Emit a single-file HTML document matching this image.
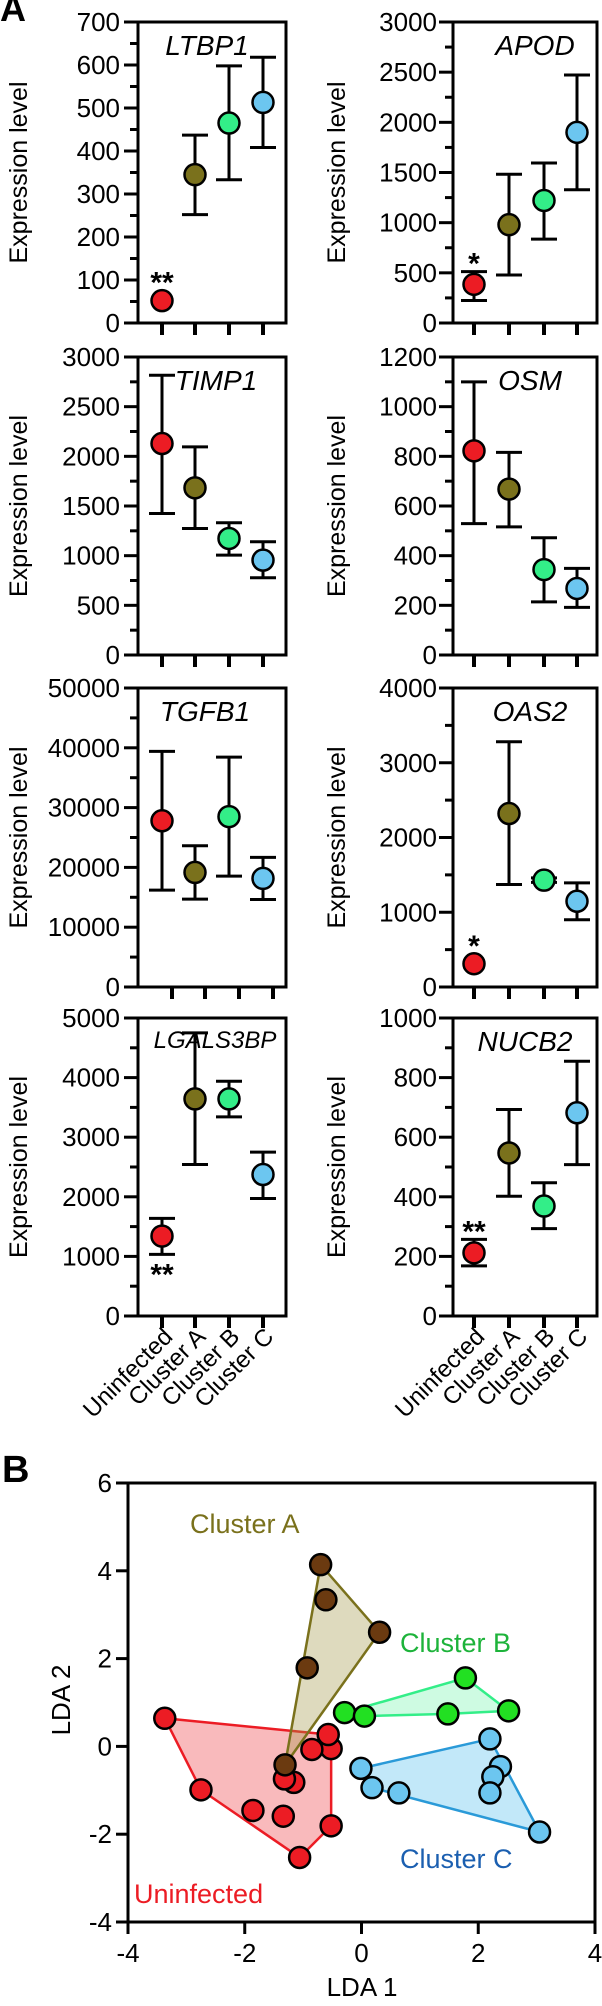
<!DOCTYPE html>
<html><head><meta charset="utf-8">
<style>
html,body{margin:0;padding:0;background:#fff;}
svg{display:block;font-family:"Liberation Sans",Arial,sans-serif;}
</style></head>
<body>
<svg id="fig" width="602" height="2006" viewBox="0 0 602 2006" xmlns="http://www.w3.org/2000/svg">
<text x="0" y="21" font-size="36" font-weight="bold">A</text>
<text x="2" y="1482" font-size="38" font-weight="bold">B</text>
<g id="panelA"></g>
<g id="panelB"></g>
</svg>
<script>
// ---------- Panel A data ----------
const groupNames = ["Uninfected","Cluster A","Cluster B","Cluster C"];
const groupColors = ["#ec1c24","#7a711c","#33ee88","#6cc6f0"];
const genes = ["LTBP1","APOD","TIMP1","OSM","TGFB1","OAS2","LGALS3BP","NUCB2"];
const yMaxes = [700,3000,3000,1200,50000,4000,5000,1000];
const yMajor = [100,500,500,200,10000,1000,1000,200];
const meansLTBP1 = [52,345,465,513];
const lowLTBP1 = [52,252,333,408];
const highLTBP1 = [52,437,598,618];
const meansAPOD = [385,980,1221,1900];
const lowAPOD = [224,478,836,1328];
const highAPOD = [512,1482,1595,2472];
const meansTIMP1 = [2129,1683,1173,955];
const lowTIMP1 = [1425,1274,1006,778];
const highTIMP1 = [2816,2095,1331,1140];
const meansOSM = [822,668,344,268];
const lowOSM = [529,516,214,192];
const highOSM = [1100,816,472,349];
const meansTGFB1 = [27800,19160,28500,18160];
const lowTGFB1 = [16200,14700,18550,14640];
const highTGFB1 = [39400,23630,38440,21680];
const meansOAS2 = [311,2321,1429,1147];
const lowOAS2 = [311,1371,1400,900];
const highOAS2 = [311,3281,1460,1393];
const meansLGALS3BP = [1341,3642,3642,2374];
const lowLGALS3BP = [1034,2542,3341,1972];
const highLGALS3BP = [1637,4750,3939,2749];
const meansNUCB2 = [212,547,369,682];
const lowNUCB2 = [168,402,293,508];
const highNUCB2 = [257,693,447,855];
const sigLabels = ["**","*","","","","*","**","**"];

const allMeans=[meansLTBP1,meansAPOD,meansTIMP1,meansOSM,meansTGFB1,meansOAS2,meansLGALS3BP,meansNUCB2];
const allLow=[lowLTBP1,lowAPOD,lowTIMP1,lowOSM,lowTGFB1,lowOAS2,lowLGALS3BP,lowNUCB2];
const allHigh=[highLTBP1,highAPOD,highTIMP1,highOSM,highTGFB1,highOAS2,highLGALS3BP,highNUCB2];

const NS="http://www.w3.org/2000/svg";
function mk(parent,tag,attrs,text){const e=document.createElementNS(NS,tag);for(const k in attrs)e.setAttribute(k,attrs[k]);if(text!==undefined)e.textContent=text;parent.appendChild(e);return e;}

const rows=[[22,323],[357,655],[688,987],[1018,1316]];
const cols=[{ax:138,right:286,xs:[162,195,229,263],lab:120,ylab:27},{ax:453,right:597,xs:[474,509,544,577],lab:437,ylab:345}];
const geneCx=[207,535,216,530,205,530,215,525];
const A=document.getElementById('panelA');

genes.forEach((g,i)=>{
  const r=rows[Math.floor(i/2)], c=cols[i%2];
  const top=r[0], bot=r[1], max=yMaxes[i];
  const y=v=>bot-(v/max)*(bot-top);
  const xs=c.xs;
  const G=mk(A,'g',{});
  
  
  const fr=mk(G,'rect',{x:c.ax,y:top,width:c.right-c.ax,height:bot-top,fill:'none',stroke:'#000','stroke-width':3});
  
  
  mk(G,'line',{x1:c.ax-14,y1:bot,x2:c.right,y2:bot,stroke:'#000','stroke-width':3});
  const step=yMajor[i];
  for(let v=0;v<=max+1e-6;v+=step/2){
    const major=Math.abs((v/step)-Math.round(v/step))<1e-6;
    mk(G,'line',{x1:c.ax-(major?14:8),y1:y(v),x2:c.ax,y2:y(v),stroke:'#000','stroke-width':3});
    if(major){
      const t=mk(G,'text',{x:c.lab,y:y(v)+9,'font-size':26,'text-anchor':'end'},String(v));
      
      
    }
  }
  const yl=mk(G,'text',{x:c.ylab,y:(top+bot)/2,'font-size':25,'text-anchor':'middle',transform:`rotate(-90 ${c.ylab} ${(top+bot)/2})`},'Expression level');
  
  
  const gt=mk(G,'text',{x:geneCx[i],y:top+(g==='LGALS3BP'?30:33),'font-size':g==='LGALS3BP'?24:28,'font-style':'italic','text-anchor':'middle'},g);
  
  
  const tickOff = g==='TGFB1'?10:0;
  for(let k=0;k<4;k++){
    mk(G,'line',{x1:xs[k]+tickOff,y1:bot,x2:xs[k]+tickOff,y2:bot+12,stroke:'#000','stroke-width':4});
    const m=allMeans[i][k], lo=allLow[i][k], hi=allHigh[i][k];
    if(hi-lo>0){
      const eb=mk(G,'path',{d:`M${xs[k]} ${y(lo)}V${y(hi)}M${xs[k]-13} ${y(lo)}H${xs[k]+13}M${xs[k]-13} ${y(hi)}H${xs[k]+13}`,stroke:'#000','stroke-width':3,fill:'none'});
      
      
    }
    const pt=mk(G,'circle',{cx:xs[k],cy:y(m),r:10.5,fill:groupColors[k],stroke:'#000','stroke-width':2.5});
    
    
  }
  if(sigLabels[i]){
    const below = g==='LGALS3BP';
    const ref = below? y(allLow[i][0])+30 : Math.min(y(allHigh[i][0]),y(allMeans[i][0])-10)-6+14;
    const st=mk(G,'text',{x:xs[0],y:below?ref:ref-6,'font-size':30,'font-weight':'bold','text-anchor':'middle'},sigLabels[i]);
    
    
  }
  if(i>=6){
    groupNames.forEach((n,k)=>{
      const tx=xs[k]+12, ty=bot+22;
      const t=mk(G,'text',{x:tx,y:ty,'font-size':24,'text-anchor':'end',transform:`rotate(-45 ${tx} ${ty})`},n);
      
      
    });
  }
});

// ---------- Panel B data ----------
const clusterNames=["Uninfected","Cluster A","Cluster B","Cluster C"];
const ldaUninfX=[-3.37,-2.75,-1.86,-1.34,-1.06,-0.52,-0.52,-0.57,-0.85,-1.16,-1.32];
const ldaUninfY=[0.64,-0.99,-1.46,-1.59,-2.53,-1.81,-0.05,0.27,-0.07,-0.82,-0.74];
const ldaAX=[-0.70,-0.61,0.31,-0.93,-1.31];
const ldaAY=[4.14,3.34,2.60,1.79,-0.42];
const ldaBX=[-0.29,0.05,1.48,1.78,2.52];
const ldaBY=[0.77,0.69,0.74,1.56,0.81];
const ldaCX=[2.20,2.38,2.25,2.20,3.05,0.64,0.18,-0.01];
const ldaCY=[0.17,-0.46,-0.69,-1.06,-1.95,-1.06,-0.94,-0.50];
const xTicks=[-4,-2,0,2,4];
const yTicks=[-4,-2,0,2,4,6];

const B=document.getElementById('panelB');
const L=128,R=595,T=1483,Bo=1922;
const sx=v=>L+(v+4)/8*(R-L);
const sy=v=>Bo-(v+4)/10*(Bo-T);

function hull(xsA,ysA){
  const p=xsA.map((x,i)=>[x,ysA[i]]).sort((a,b)=>a[0]-b[0]||a[1]-b[1]);
  const cr=(o,a,b)=>(a[0]-o[0])*(b[1]-o[1])-(a[1]-o[1])*(b[0]-o[0]);
  const lo=[],up=[];
  for(const q of p){while(lo.length>=2&&cr(lo[lo.length-2],lo[lo.length-1],q)<=0)lo.pop();lo.push(q);}
  for(const q of p.slice().reverse()){while(up.length>=2&&cr(up[up.length-2],up[up.length-1],q)<=0)up.pop();up.push(q);}
  return lo.slice(0,-1).concat(up.slice(0,-1));
}
const sets=[
 {x:ldaUninfX,y:ldaUninfY,line:'#ec1c24',fill:'rgba(240,90,95,0.42)',pt:'#ec1c24'},
 {x:ldaAX,y:ldaAY,line:'#7a711c',fill:'rgba(160,150,70,0.35)',pt:'#6b3a10'},
 {x:ldaBX,y:ldaBY,line:'#33ee88',fill:'rgba(80,240,150,0.28)',pt:'#22e022'},
 {x:ldaCX,y:ldaCY,line:'#2a9ad8',fill:'rgba(110,200,240,0.42)',pt:'#6cc6f0'}
];
sets.forEach((s,j)=>{
  const h=hull(s.x,s.y);
  const pg=mk(B,'polygon',{points:h.map(q=>sx(q[0])+','+sy(q[1])).join(' '),fill:s.fill,stroke:s.line,'stroke-width':2.5,'stroke-linejoin':'round'});
  
  
});
sets.forEach((s,j)=>{
  s.x.forEach((xv,k)=>{
    const c=mk(B,'circle',{cx:sx(xv),cy:sy(s.y[k]),r:10.5,fill:s.pt,stroke:'#000','stroke-width':2.5});
    
    
  });
});
const fb=mk(B,'rect',{x:L,y:T,width:R-L,height:Bo-T,fill:'none',stroke:'#000','stroke-width':3});


xTicks.forEach(v=>{
  mk(B,'line',{x1:sx(v),y1:Bo,x2:sx(v),y2:Bo+12,stroke:'#000','stroke-width':3});
  const t=mk(B,'text',{x:sx(v),y:Bo+40,'font-size':26,'text-anchor':'middle'},String(v));
  
  
});
yTicks.forEach(v=>{
  mk(B,'line',{x1:L-12,y1:sy(v),x2:L,y2:sy(v),stroke:'#000','stroke-width':3});
  const t=mk(B,'text',{x:L-16,y:sy(v)+9,'font-size':26,'text-anchor':'end'},String(v));
  
  
});
const xt=mk(B,'text',{x:362,y:1996,'font-size':26,'text-anchor':'middle'},'LDA 1');


const yt=mk(B,'text',{x:70,y:1700,'font-size':26,'text-anchor':'middle',transform:'rotate(-90 70 1700)'},'LDA 2');


const labs=[['Uninfected',134,1903,'#ec1c24'],['Cluster A',190,1533,'#7a711c'],['Cluster B',400,1652,'#1db33a'],['Cluster C',400,1868,'#1b5fb0']];
labs.forEach(l=>{
  const t=mk(B,'text',{x:l[1],y:l[2],'font-size':27,fill:l[3]},l[0]);
  
  
});
</script>
</body></html>
